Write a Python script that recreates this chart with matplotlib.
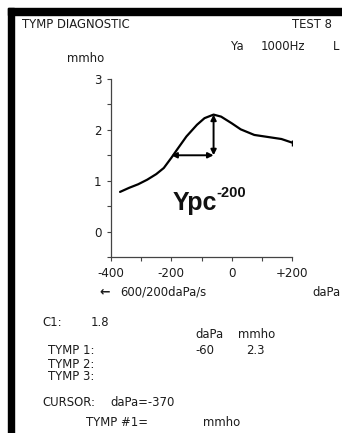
import matplotlib
matplotlib.use("Agg")
import matplotlib.pyplot as plt
from matplotlib.patches import Rectangle

# tympanogram trace: pressure (daPa) vs admittance (mmho)
pressure = [-370, -340, -310, -280, -250, -225, -200, -180, -150, -115, -90,
            -60, -35, 0, 30, 75, 120, 165, 200]
admittance = [0.78, 0.86, 0.93, 1.02, 1.13, 1.25, 1.45, 1.62, 1.87, 2.10, 2.23,
              2.30, 2.26, 2.13, 2.01, 1.90, 1.86, 1.82, 1.75]

peak_pressure = -60
peak_value = 2.3
width_left = -200
width_level = 1.5

x_ticks = [-400, -200, 0, 200]
x_labels = ["-400", "-200", "0", "+200"]
y_ticks = [0, 1, 2, 3]

W, H = 342, 433
ink = "#1c1c1c"

fig = plt.figure(figsize=(W / 100, H / 100), dpi=100)
fig.patch.set_facecolor("white")


def px(x, y):
    return x / W, 1 - y / H


# black frame at top and left
fig.patches.append(Rectangle((8 / W, 1 - 15 / H), 1, 7 / H,
                             transform=fig.transFigure, color="black", zorder=0))
fig.patches.append(Rectangle((8 / W, 0), 6 / W, 1 - 8 / H,
                             transform=fig.transFigure, color="black", zorder=0))

ax = fig.add_axes([111 / W, (H - 257) / H, 181 / W, 178 / H])
ax.set_xlim(-400, 200)
ax.set_ylim(-0.5, 3)
ax.spines[["top", "right"]].set_visible(False)
for s in ["left", "bottom"]:
    ax.spines[s].set_color("#444444")
    ax.spines[s].set_linewidth(0.9)
ax.set_xticks(x_ticks, x_labels)
ax.set_xticks([-300, -100, 100], minor=True)
ax.set_yticks(y_ticks, [str(v) for v in y_ticks])
ax.set_yticks([-0.5, 0.5, 1.5, 2.5], minor=True)
ax.tick_params(which="both", length=3, width=0.8, color="#444444",
               labelsize=8.6, labelcolor=ink)
ax.tick_params(axis="x", pad=4)
ax.tick_params(axis="y", pad=4)

ax.plot(pressure, admittance, color="black", lw=1.6, solid_capstyle="round")
ax.plot([pressure[-1]], [admittance[-1]], marker="|", ms=5, color="black", mew=1)

arrow = dict(arrowstyle="<|-|>", color="black", lw=1.4, mutation_scale=8,
             shrinkA=0, shrinkB=0)
ax.annotate("", xy=(peak_pressure, peak_value), xytext=(peak_pressure, width_level),
            arrowprops=arrow)
ax.annotate("", xy=(width_left, width_level), xytext=(peak_pressure, width_level),
            arrowprops=arrow)

ypc = ax.text(-197, 0.43, "Ypc", fontsize=18, fontweight="bold",
              family="Liberation Sans", color="#111111", va="baseline")
ax.annotate("-200", xy=(1, 0.6), xycoords=ypc, fontsize=10.5,
            fontweight="bold", family="Liberation Sans", color="#111111",
            va="bottom", ha="left")

small = dict(fontsize=8.4, color=ink, va="center", family="DejaVu Sans")
fig.text(*px(22, 24), "TYMP DIAGNOSTIC", **small)
fig.text(*px(292, 24), "TEST 8", **small)
fig.text(*px(231, 46), "Ya", **small)
fig.text(*px(261, 46), "1000Hz", **small)
fig.text(*px(333, 46), "L", **small)
fig.text(*px(67, 59), "mmho", **small)
fig.text(*px(99, 292), "\u2190", fontsize=9, color=ink, va="center",
         fontweight="bold")
fig.text(*px(120, 292), "600/200daPa/s", **small)
fig.text(*px(312, 292), "daPa", **small)
fig.text(*px(42, 322), "C1:", **small)
fig.text(*px(91, 322), "1.8", **small)
fig.text(*px(195, 335), "daPa", **small)
fig.text(*px(238, 335), "mmho", **small)
fig.text(*px(48, 351), "TYMP 1:", **small)
fig.text(*px(195, 351), "-60", **small)
fig.text(*px(246, 351), "2.3", **small)
fig.text(*px(48, 365), "TYMP 2:", **small)
fig.text(*px(48, 377), "TYMP 3:", **small)
fig.text(*px(42, 403), "CURSOR:", **small)
fig.text(*px(110, 403), "daPa=-370", **small)
fig.text(*px(86, 423), "TYMP #1=", **small)
fig.text(*px(203, 423), "mmho", **small)

fig.savefig("out.png", dpi=100, facecolor="white")
